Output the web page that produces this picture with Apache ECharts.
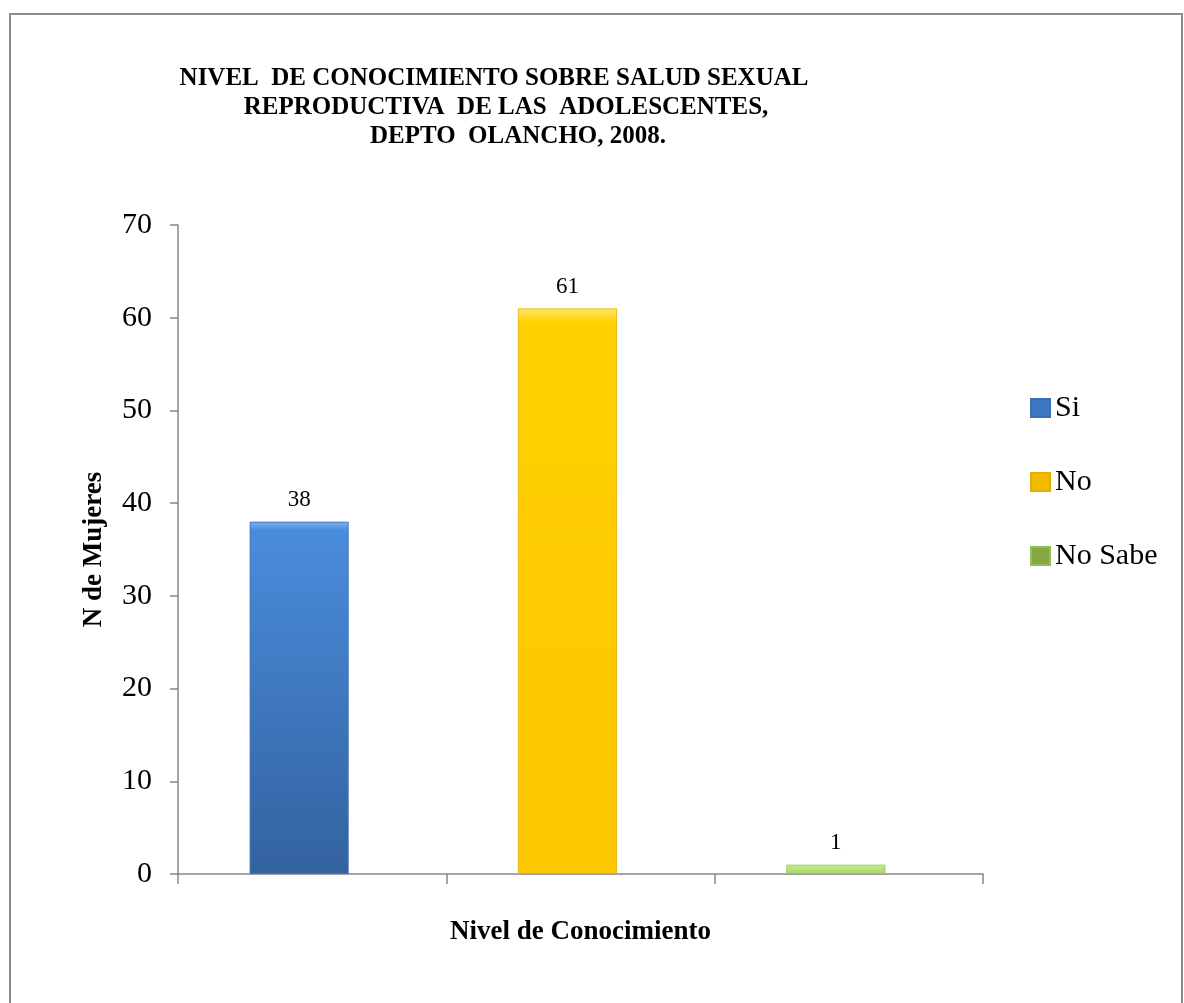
<!DOCTYPE html>
<html>
<head>
<meta charset="utf-8">
<script src="https://cdn.jsdelivr.net/npm/echarts@6/dist/echarts.min.js"></script>
<style>
html,body{margin:0;padding:0;background:#fff;}
#chart{width:1184px;height:1003px;}
</style>
</head>
<body>
<div id="chart"></div>
<script>
const categories = ['Si', 'No', 'No Sabe'];
const siValues = [38, '-', '-'];
const noValues = ['-', 61, '-'];
const noSabeValues = ['-', '-', 1];
const titleLines = [
  'NIVEL  DE CONOCIMIENTO SOBRE SALUD SEXUAL',
  'REPRODUCTIVA  DE LAS  ADOLESCENTES,',
  'DEPTO  OLANCHO, 2008.'
];
const yAxisName = 'N de Mujeres';
const xAxisName = 'Nivel de Conocimiento';

const FONT = '"Liberation Serif", "Times New Roman", serif';
const chart = echarts.init(document.getElementById('chart'), null, {renderer: 'canvas'});

function vgrad(hi, top, bottom) {
  return new echarts.graphic.LinearGradient(0, 0, 0, 1, [
    {offset: 0, color: hi}, {offset: 0.025, color: top}, {offset: 1, color: bottom}
  ]);
}
const labelStyle = {show: true, position: 'top', distance: 10, fontFamily: FONT, fontSize: 23, color: '#000'};

const option = {
  backgroundColor: '#fff',
  animation: false,
  graphic: [
    {type: 'rect', shape: {x: 10, y: 14, width: 1172, height: 1010},
     style: {fill: 'none', stroke: '#8c8c8c', lineWidth: 2}, silent: true},
    {type: 'text', x: 494, y: 79, style: {text: titleLines[0], font: 'bold 25px ' + FONT, fill: '#000', align: 'center', verticalAlign: 'middle'}},
    {type: 'text', x: 506, y: 108, style: {text: titleLines[1], font: 'bold 25px ' + FONT, fill: '#000', align: 'center', verticalAlign: 'middle'}},
    {type: 'text', x: 518, y: 137, style: {text: titleLines[2], font: 'bold 25px ' + FONT, fill: '#000', align: 'center', verticalAlign: 'middle'}}
  ],
  grid: {left: 178, right: 201, top: 225, bottom: 129, containLabel: false},
  legend: {
    orient: 'vertical', left: 1025, top: 388,
    itemWidth: 19, itemHeight: 18, itemGap: 44,
    icon: 'rect',
    textStyle: {fontFamily: FONT, fontSize: 30, color: '#000', lineHeight: 30},
    data: [
      {name: 'Si', itemStyle: {color: '#3c76c0'}},
      {name: 'No', itemStyle: {color: '#f2ba00'}},
      {name: 'No Sabe', itemStyle: {color: '#86a843'}}
    ]
  },
  xAxis: {
    type: 'category', data: categories, boundaryGap: true,
    axisLine: {lineStyle: {color: '#888', width: 1.5}},
    axisTick: {show: true, length: 10, lineStyle: {color: '#888', width: 1.5}},
    axisLabel: {show: false},
    splitLine: {show: false},
    name: xAxisName, nameLocation: 'middle', nameGap: 45,
    nameTextStyle: {fontFamily: FONT, fontSize: 27, fontWeight: 'bold', color: '#000'}
  },
  yAxis: {
    type: 'value', min: 0, max: 70, interval: 10,
    axisLine: {show: true, lineStyle: {color: '#888', width: 1.5}},
    axisTick: {show: true, length: 8, inside: false, lineStyle: {color: '#888', width: 1.5}},
    axisLabel: {fontFamily: FONT, fontSize: 30, color: '#000', margin: 26},
    splitLine: {show: false},
    name: yAxisName, nameLocation: 'middle', nameGap: 70, nameRotate: 90,
    nameTextStyle: {fontFamily: FONT, fontSize: 27, fontWeight: 'bold', color: '#000'}
  },
  series: [
    {name: 'Si', type: 'bar', stack: 'a', data: siValues, barWidth: 99, barGap: '-73.7%',
     itemStyle: {color: vgrad('#7fb0ec', '#4a8cdc', '#33629f'), borderColor: '#3a6fb2', borderWidth: 0.8}, label: labelStyle},
    {name: 'No', type: 'bar', stack: 'a', data: noValues, barWidth: 99, barGap: '-73.7%',
     itemStyle: {color: vgrad('#ffe766', '#ffd000', '#fcc600'), borderColor: '#e0b000', borderWidth: 0.8}, label: labelStyle},
    {name: 'No Sabe', type: 'bar', stack: 'a', data: noSabeValues, barWidth: 99, barGap: '-73.7%',
     itemStyle: {color: vgrad('#d8f5a8', '#c6ee8a', '#a4d466'), borderColor: '#8fbf55', borderWidth: 0.8}, label: labelStyle},
    {name: '_pad', type: 'bar', stack: 'b', data: ['-', '-', '-'], barWidth: 99, barGap: '-73.7%',
     itemStyle: {color: 'rgba(0,0,0,0)'}, silent: true}
  ]
};
chart.setOption(option);
</script>
</body>
</html>
